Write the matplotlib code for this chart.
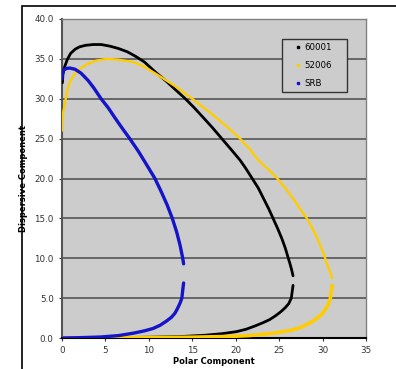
import matplotlib
matplotlib.use("Agg")
import matplotlib.pyplot as plt
from matplotlib.patches import Rectangle

# 60001 (black) - upper branch left->right, lower branch right->left
black_up_x = [0.05, 0.1, 0.3, 0.6, 1.0, 1.5, 2.0, 2.7, 3.6, 4.5, 5.5, 6.5, 7.5, 8.5, 9.5, 10.8,
              12.0, 13.0, 14.2, 15.2, 16.3, 17.3, 18.4, 19.5, 20.5, 21.2, 21.9, 22.6, 23.2, 23.8,
              24.3, 24.8, 25.3, 25.7, 26.0, 26.25, 26.45, 26.6]
black_up_y = [32.0, 33.0, 34.0, 34.9, 35.7, 36.2, 36.5, 36.7, 36.8, 36.8, 36.6, 36.3, 35.9, 35.3, 34.6, 33.3,
              32.2, 31.2, 30.0, 28.9, 27.6, 26.4, 25.0, 23.6, 22.3, 21.2, 20.0, 18.8, 17.5, 16.2,
              15.0, 13.8, 12.5, 11.3, 10.2, 9.3, 8.5, 7.8]
black_lo_x = [26.6, 26.5, 26.4, 26.1, 25.7, 25.2, 24.6, 23.9, 23.1, 22.2, 21.2, 20.1, 18.5, 16.5, 14.0, 10.0, 5.0, 0.0]
black_lo_y = [6.6, 5.8, 5.0, 4.3, 3.8, 3.3, 2.8, 2.3, 1.9, 1.5, 1.1, 0.8, 0.55, 0.35, 0.2, 0.1, 0.03, 0.0]

# 52006 (gold)
gold_up_x = [0.0, 0.05, 0.1, 0.25, 0.4, 0.6, 0.9, 1.4, 2.1, 3.0, 4.0, 5.2, 6.5, 8.2, 9.5, 11.0,
             12.0, 13.0, 14.0, 15.0, 16.4, 17.8, 19.2, 20.5, 21.6, 22.6, 23.7, 24.8, 25.7, 26.6,
             27.4, 28.2, 28.8, 29.4, 29.9, 30.3, 30.6, 30.9, 31.1]
gold_up_y = [26.0, 27.5, 28.1, 28.9, 29.8, 31.0, 32.1, 33.0, 33.8, 34.4, 34.8, 35.0, 34.9, 34.6, 34.0, 33.0,
             32.3, 31.6, 30.8, 30.0, 28.8, 27.6, 26.3, 25.0, 23.7, 22.3, 21.2, 20.0, 18.8, 17.5,
             16.2, 15.0, 13.8, 12.5, 11.2, 10.0, 9.0, 8.2, 7.5]
gold_lo_x = [31.1, 31.0, 30.9, 30.7, 30.4, 30.0, 29.5, 28.9, 28.2, 27.4, 26.5, 25.5, 24.3, 23.1, 21.5, 19.5, 15.0, 10.0, 5.0, 0.0]
gold_lo_y = [6.6, 5.8, 5.0, 4.3, 3.7, 3.1, 2.6, 2.1, 1.7, 1.3, 1.0, 0.8, 0.6, 0.45, 0.3, 0.2, 0.1, 0.05, 0.02, 0.0]

# SRB (blue)
srb_up_x = [0.0, 0.05, 0.2, 0.5, 0.9, 1.5, 2.2, 3.0, 3.7, 4.5, 5.3, 6.1, 7.0, 7.8, 8.8, 9.7, 10.7,
            11.4, 12.1, 12.7, 13.2, 13.6, 13.9, 14.0]
srb_up_y = [32.5, 33.2, 33.6, 33.8, 33.85, 33.7, 33.2, 32.3, 31.3, 30.0, 28.9, 27.6, 26.2, 25.0, 23.4, 21.8, 20.0,
            18.4, 16.7, 15.0, 13.3, 11.6, 10.0, 9.3]
srb_lo_x = [14.0, 13.9, 13.8, 13.6, 13.3, 13.0, 12.6, 12.0, 11.3, 10.5, 9.5, 8.2, 6.5, 4.4, 2.0, 0.0]
srb_lo_y = [6.9, 6.0, 5.0, 4.4, 3.7, 3.1, 2.6, 2.1, 1.6, 1.2, 0.9, 0.6, 0.3, 0.12, 0.04, 0.0]

x_ticks = [0, 5, 10, 15, 20, 25, 30, 35]
y_ticks = [0, 5, 10, 15, 20, 25, 30, 35, 40]

plt.rcParams['font.family'] = 'DejaVu Sans'

fig = plt.figure(figsize=(3.96, 3.69), dpi=100)
# outer chart frame (partly cut off)
fig.patches.append(Rectangle((21.5 / 396, -0.2), 1.5, 1.2 - 6 / 369, transform=fig.transFigure,
                             fill=False, edgecolor='black', linewidth=1.2))

ax = fig.add_axes([62 / 396, 1 - 338 / 369, (366 - 62) / 396, (338 - 19) / 369])
ax.set_facecolor('#CCCCCC')

series = [
    ('60001', 'black', black_up_x, black_up_y, black_lo_x, black_lo_y, 2.0, 2.0),
    ('52006', '#FFCC00', gold_up_x, gold_up_y, gold_lo_x, gold_lo_y, 1.7, 2.6),
    ('SRB', '#1414C8', srb_up_x, srb_up_y, srb_lo_x, srb_lo_y, 2.4, 2.4),
]
for name, col, ux, uy, lx, ly, lw_up, lw_lo in series:
    ax.plot(ux, uy, color=col, lw=lw_up, solid_capstyle='round', solid_joinstyle='round', zorder=3)
    ax.plot(lx, ly, color=col, lw=lw_lo, solid_capstyle='round', solid_joinstyle='round', zorder=3)
    ax.plot([], [], ls='none', marker='s', ms=2.0, color=col, label=name)

ax.set_xlim(0, 35)
ax.set_ylim(0, 40)
ax.set_xticks(x_ticks)
ax.set_xticklabels([str(v) for v in x_ticks])
ax.set_yticks(y_ticks)
ax.set_yticklabels([f"{v:.1f}" for v in y_ticks])
ax.tick_params(labelsize=6.3, colors='#333333', length=2.5, width=0.8)
ax.yaxis.grid(True, color='#555555', linewidth=1.2)
ax.set_axisbelow(True)
for s in ['top', 'right']:
    ax.spines[s].set_color('#808080')
    ax.spines[s].set_linewidth(1.0)
ax.spines['left'].set_color('#555555')
ax.spines['left'].set_linewidth(1.5)
ax.spines['bottom'].set_color('black')
ax.spines['bottom'].set_linewidth(1.5)

ax.set_xlabel('Polar Component', fontsize=6.0, fontweight='bold', va='top')
ax.xaxis.set_label_coords(0.5, (338 - 357) / 319)
ax.set_ylabel('Dispersive Component', fontsize=6.0, fontweight='bold')
ax.yaxis.set_label_coords((28.5 - 62) / 304, 0.5)

leg = ax.legend(loc='upper left', bbox_to_anchor=((282 - 62) / 304, 0.5, 65 / 304, 1 - (39 - 19) / 319 - 0.5),
                mode='expand', fontsize=6.2, frameon=True, fancybox=False, handlelength=2.8,
                handletextpad=-0.7, borderpad=0.5, labelspacing=1.0, borderaxespad=0)
leg.get_frame().set_facecolor('#CCCCCC')
leg.get_frame().set_edgecolor('#333333')
leg.get_frame().set_linewidth(1.0)
leg.get_frame().set_alpha(1)

fig.savefig('out.png', dpi=100)
